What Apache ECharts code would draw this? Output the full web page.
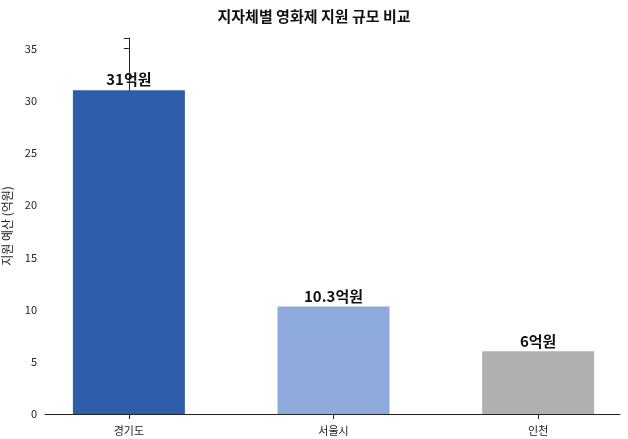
<!DOCTYPE html><html><head><meta charset="utf-8"><script src="https://cdn.jsdelivr.net/npm/echarts@6/dist/echarts.min.js"></script></head><body style="margin:0"><div id="c" style="width:628px;height:439px"></div><script>
const categories=['경기도\nDMZ영화제','서울시\n영화제 전체','인천\n디아스포라영화제'];
const values=[31,10.3,6];
const labels=['31억원','10.3억원','6억원'];
const colors=['#2e5eaa','#8faadc','#b0b0b0'];
const F='"Noto Sans CJK KR"';
echarts.init(document.getElementById('c')).setOption({
title:{text:'지자체별 영화제 지원 규모 비교',left:'center',top:4,textStyle:{fontFamily:F,fontSize:15,fontWeight:'bold',color:'#111'}},
grid:{left:45,right:8,top:38,bottom:25,outerBoundsMode:'none',containLabel:false},
xAxis:{type:'value',min:-0.41,max:2.4,splitLine:{show:false},axisLine:{lineStyle:{color:'#222'}},
 axisTick:{show:true,customValues:[0,1,2],lineStyle:{color:'#222'}},
 axisLabel:{customValues:[0,1,2],formatter:v=>categories[Math.round(v)],fontFamily:F,fontSize:11,color:'#222',lineHeight:17}},
yAxis:{type:'value',min:0,max:36,interval:5,name:'지원 예산 (억원)',nameLocation:'middle',nameGap:28,nameTextStyle:{fontFamily:F,fontSize:12,color:'#222'},axisLine:{show:true,lineStyle:{color:'#222'}},axisTick:{show:true},splitLine:{show:false},axisLabel:{fontFamily:F,fontSize:11,color:'#222',formatter:v=>v>35?'':v}},
series:[{type:'bar',barWidth:112,data:values.map((v,i)=>({value:[i,v],itemStyle:{color:colors[i]}})),label:{show:true,position:'top',distance:3,fontFamily:F,fontSize:15,fontWeight:'bold',color:'#111',formatter:p=>labels[p.dataIndex]}}]
});
</script></body></html>
